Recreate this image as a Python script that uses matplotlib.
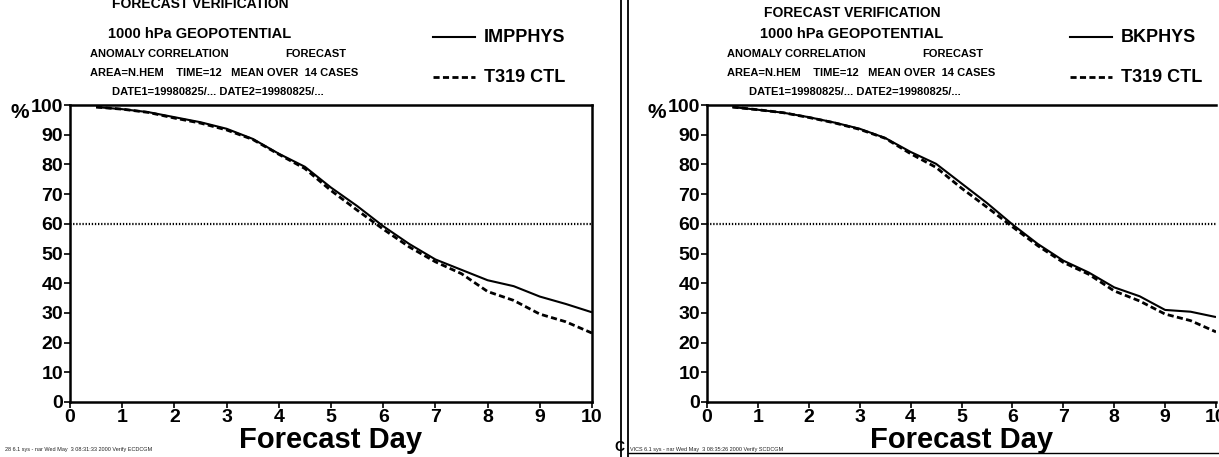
import matplotlib
matplotlib.use('Agg')
import matplotlib.pyplot as plt
from matplotlib.lines import Line2D

plt.rcParams['font.family'] = ['Liberation Sans Narrow', 'Liberation Sans', 'DejaVu Sans']

# forecast day (every 12 h from day 0.5)
days = [0.5, 1, 1.5, 2, 2.5, 3, 3.5, 4, 4.5, 5, 5.5, 6, 6.5, 7, 7.5, 8, 8.5, 9, 9.5, 10]

# anomaly correlation (%) 1000 hPa geopotential, N.HEM
impphys = [99.3, 98.6, 97.6, 95.9, 94.2, 92.0, 88.6, 83.6, 79.2, 72.2, 66.0, 59.2,
           53.2, 48.0, 44.5, 41.0, 39.0, 35.5, 33.0, 30.2]
ctl_left = [99.3, 98.6, 97.5, 95.6, 93.9, 91.6, 88.4, 83.4, 78.6, 71.2, 64.6, 58.2,
            52.2, 47.2, 43.2, 37.2, 34.2, 29.6, 27.0, 23.2]
bkphys = [99.3, 98.4, 97.4, 95.9, 94.1, 92.0, 88.9, 84.2, 80.2, 73.6, 67.0, 59.8,
          53.2, 47.6, 43.6, 38.6, 35.6, 31.0, 30.4, 28.6]
ctl_right = [99.3, 98.4, 97.4, 95.8, 94.0, 91.8, 88.8, 83.6, 79.0, 72.0, 65.6, 59.0,
             52.6, 47.0, 43.0, 37.4, 34.0, 29.6, 27.4, 23.6]

xticks = list(range(0, 11))
yticks = list(range(0, 101, 10))
threshold = 60

W, H = 1219, 457
fig = plt.figure(figsize=(W / 100, H / 100), dpi=100)
HDR = ['Liberation Sans', 'DejaVu Sans']


def px(x, y):
    # pixel position -> figure fraction
    return x / W, 1 - y / H


def panel(x0, x1, exp_vals, ctl_vals, exp_name, hide_right, head_dx, head_y):
    l, b = px(x0, 402)
    r, t = px(x1, 105)
    ax = fig.add_axes([l, b, r - l, t - b])
    ax.plot(days, exp_vals, color='black', lw=1.5, solid_capstyle='butt')
    ax.plot(days, ctl_vals, color='black', lw=2.0, ls=(0, (2.2, 1.2)))
    ax.axhline(threshold, color='black', lw=1.6, ls=(0, (0.6, 0.8)))
    ax.set_xlim(0, 10)
    ax.set_ylim(0, 100)
    ax.set_xticks(xticks)
    ax.set_yticks(yticks)
    ax.set_xticklabels([str(v) for v in xticks], fontsize=14, fontweight='bold')
    ax.set_yticklabels([str(v) for v in yticks], fontsize=14, fontweight='bold')
    ax.tick_params(direction='out', length=4, width=1.2, pad=1)
    for s in ax.spines.values():
        s.set_linewidth(1.8)
    if hide_right:
        ax.spines['right'].set_visible(False)
    ax.set_xlabel('Forecast Day', fontsize=21, fontweight='bold', labelpad=0, family=HDR)
    # percent sign next to top tick
    fx, fy = px(x0 - 50, 112)
    fig.text(fx, fy, '%', fontsize=15, fontweight='bold', ha='center', va='center')

    # header block
    fx, fy = px(x0 + 125 + head_dx, head_y)
    fig.text(fx, fy, 'FORECAST VERIFICATION', fontsize=10, fontweight='bold',
             ha='center', va='center', family=HDR)
    fx, fy = px(x0 + 125 + head_dx, 34)
    fig.text(fx, fy, '1000 hPa GEOPOTENTIAL', fontsize=10.5, fontweight='bold',
             ha='center', va='center', family=HDR)
    fx, fy = px(x0 + 20, 54)
    fig.text(fx, fy, 'ANOMALY CORRELATION', fontsize=8, fontweight='bold',
             ha='left', va='center', family=HDR)
    fx, fy = px(x0 + 276, 54)
    fig.text(fx, fy, 'FORECAST', fontsize=8, fontweight='bold',
             ha='right', va='center', family=HDR)
    fx, fy = px(x0 + 20, 73)
    fig.text(fx, fy, 'AREA=N.HEM    TIME=12   MEAN OVER  14 CASES', fontsize=8,
             fontweight='bold', ha='left', va='center', family=HDR)
    fx, fy = px(x0 + 148, 92)
    fig.text(fx, fy, 'DATE1=19980825/... DATE2=19980825/...', fontsize=8,
             fontweight='bold', ha='center', va='center', family=HDR)

    # key
    kx = x0 + 363
    for yy, style, lw, name in [(37, '-', 1.5, exp_name),
                                (77, (0, (2.2, 1.2)), 2.0, 'T319 CTL')]:
        a, yf = px(kx, yy)
        c, _ = px(kx + 42, yy)
        fig.add_artist(Line2D([a, c], [yf, yf], color='black', lw=lw, ls=style,
                              transform=fig.transFigure))
        tx, _ = px(kx + 51, yy)
        fig.text(tx, yf, name, fontsize=13, fontweight='bold', ha='left', va='center',
                 family=HDR)
    return ax


panel(70, 592, impphys, ctl_left, 'IMPPHYS', False, 5, 4)
panel(707, 1216, bkphys, ctl_right, 'BKPHYS', True, 20, 13)

# page separator
for xx in (621, 628):
    a, _ = px(xx, 0)
    fig.add_artist(Line2D([a, a], [0, 1], color='black', lw=1.3,
                          transform=fig.transFigure))
a, yb = px(628, 453)
fig.add_artist(Line2D([a, 1], [yb, yb], color='black', lw=1.0,
                      transform=fig.transFigure))

# plot stamps
fx, fy = px(5, 449)
fig.text(fx, fy, '28 6.1 sys - nar Wed May  3 08:31:33 2000 Verify ECDCGM',
         fontsize=4, ha='left', va='center', color='#222222')
fx, fy = px(619, 447)
fig.text(fx, fy, 'C', fontsize=10, fontweight='bold', ha='center', va='center')
fx, fy = px(630, 449)
fig.text(fx, fy, 'VICS 6.1 sys - nar Wed May  3 08:35:26 2000 Verify SCDCGM',
         fontsize=4, ha='left', va='center', color='#222222')

fig.savefig('out.png', dpi=100)
